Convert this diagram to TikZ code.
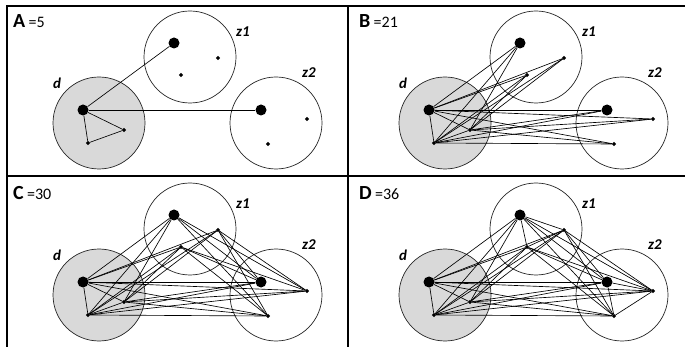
\documentclass[tikz,border=0pt]{standalone}
\usepackage{fontspec}
\setmainfont{Carlito}
\usetikzlibrary{shapes.geometric}
\begin{document}
\begin{tikzpicture}[x=1pt,y=-1pt,
  region/.style={circle,draw=black!85,line width=0.7pt,minimum size=92pt,inner sep=0pt},
  bigdot/.style={circle,fill=black,minimum size=11pt,inner sep=0pt},
  smalldot/.style={diamond,fill=black,minimum size=4.5pt,inner sep=0pt},
  edge/.style={line width=0.65pt,black},
  frame/.style={line width=1.8pt,black},
  zlabel/.style={font=\fontsize{15}{15}\selectfont\bfseries\itshape,anchor=base west,inner sep=0pt},
  plabel/.style={anchor=base west,inner sep=0pt}]
\useasboundingbox (0,0) rectangle (685,347);
\def\Edd{d0/d1,d0/d2,d1/d2}
\def\Edz{d0/z0,d0/z1,d0/z2,d1/z0,d1/z1,d1/z2,d2/z0,d2/z1,d2/z2}
\def\Edw{d0/w0,d0/w1,d0/w2,d1/w0,d1/w1,d1/w2,d2/w0,d2/w1,d2/w2}
\def\Ezw{z0/w0,z0/w1,z0/w2,z1/w0,z1/w1,z1/w2,z2/w0,z2/w1,z2/w2}
\def\Ezz{z0/z1,z0/z2,z1/z2}
\def\Eww{w0/w1,w0/w2,w1/w2}
\newcommand\drawpanel[5]{%
\begin{scope}[shift={(#2,#3)}]
  \node[region,fill=black!15] (#1cd) at (99,123) {};
  \node[region] (#1cz) at (190,57) {};
  \node[region] (#1cw) at (276,123) {};
  \node[plabel] (#1lab) at (13,28) {\fontsize{20}{20}\selectfont\bfseries #4\,\fontsize{16}{16}\mdseries\selectfont =#5};
  \node[zlabel] (#1ld) at (53,89) {d};
  \node[zlabel] (#1lz) at (236,37) {z1};
  \node[zlabel] (#1lw) at (302,78) {z2};
  \node[bigdot] (#1d0) at (83,110) {};
  \node[smalldot] (#1d1) at (124,130) {};
  \node[smalldot] (#1d2) at (88,143) {};
  \node[bigdot] (#1z0) at (174,43) {};
  \node[smalldot] (#1z1) at (218,58) {};
  \node[smalldot] (#1z2) at (181,75) {};
  \node[bigdot] (#1w0) at (261,110) {};
  \node[smalldot] (#1w1) at (307,119) {};
  \node[smalldot] (#1w2) at (268,144) {};
\end{scope}}
% panels
\drawpanel{A}{0}{0}{A}{5}
\drawpanel{B}{346}{0}{B}{21}
\drawpanel{C}{0}{172}{C}{30}
\drawpanel{D}{346}{172}{D}{36}
% edges
\foreach \a/\b in {d0/z0,d0/w0,d0/d1,d1/d2,d0/d2} \draw[edge] (A\a) -- (A\b);
\foreach \p in {B,C,D}{
  \foreach \a/\b in \Edd \draw[edge] (\p\a) -- (\p\b);
  \foreach \a/\b in \Edz \draw[edge] (\p\a) -- (\p\b);
  \foreach \a/\b in \Edw \draw[edge] (\p\a) -- (\p\b);
}
\foreach \p in {C,D}{
  \foreach \a/\b in \Ezw \draw[edge] (\p\a) -- (\p\b);
}
\foreach \a/\b in \Ezz \draw[edge] (D\a) -- (D\b);
\foreach \a/\b in \Eww \draw[edge] (D\a) -- (D\b);
% frame
\coordinate (tl) at (7,6);
\coordinate (tr) at (685,6);
\coordinate (ml) at (7,176);
\coordinate (mr) at (685,176);
\coordinate (bl) at (7,347);
\coordinate (vt) at (348,6);
\coordinate (vb) at (348,347);
\draw[frame] (tr) -- (tl) -- (bl);
\draw[frame] (ml) -- (mr);
\draw[frame] (vt) -- (vb);
\end{tikzpicture}
\end{document}
